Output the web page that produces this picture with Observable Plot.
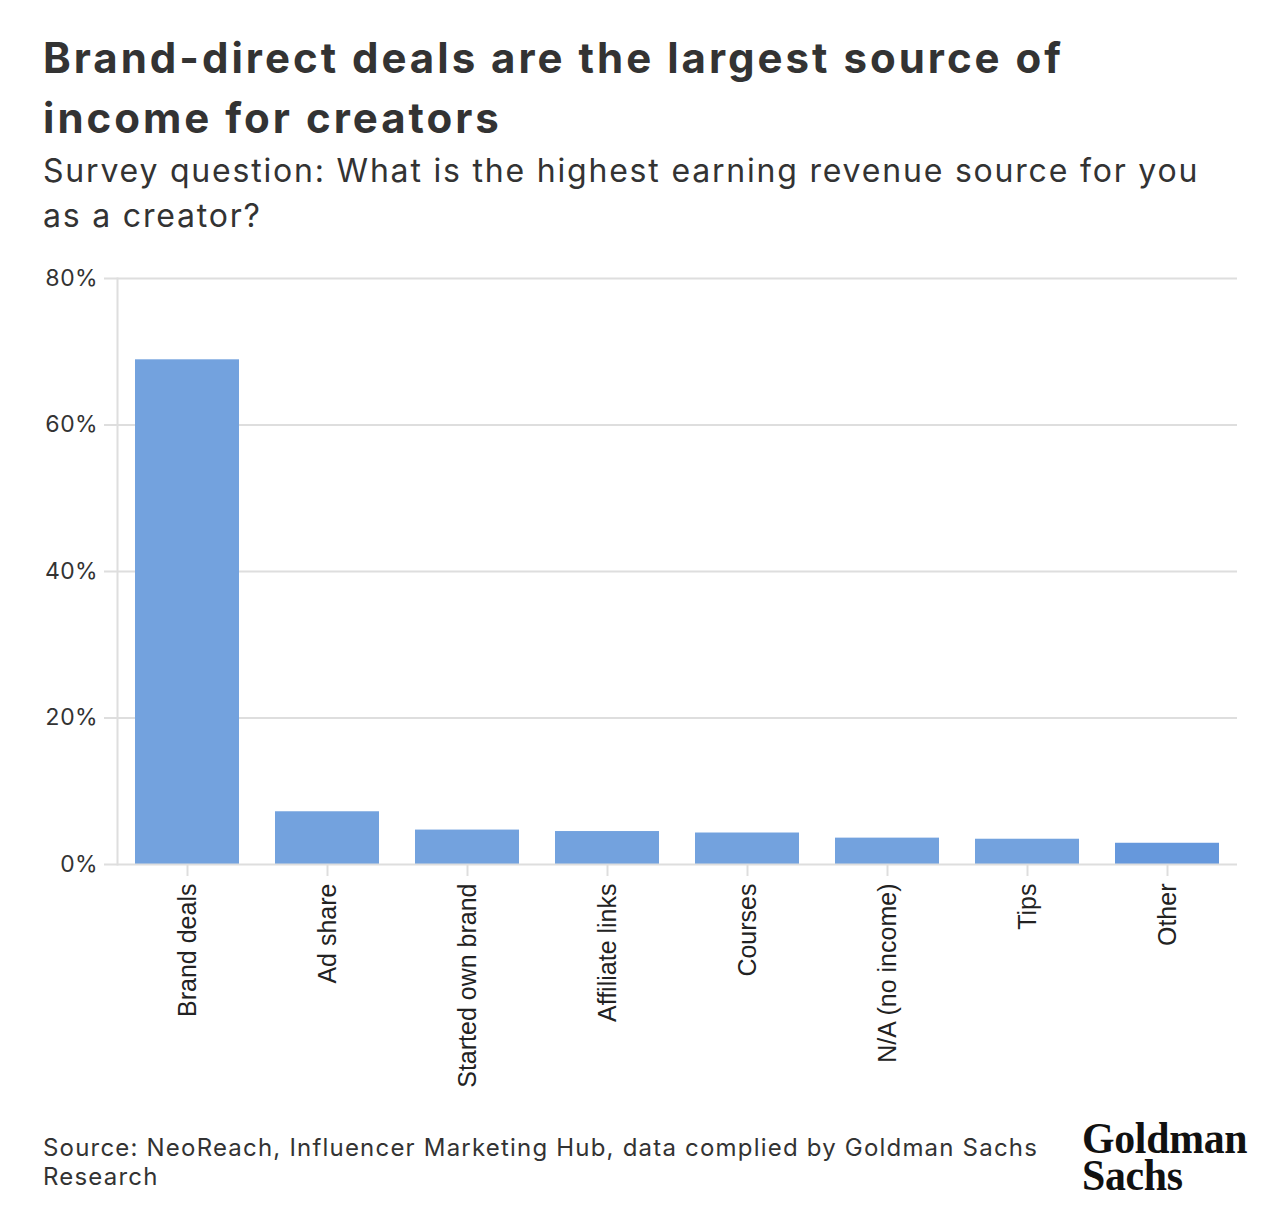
<!DOCTYPE html>
<html>
<head>
<meta charset="utf-8">
<script src="https://cdn.jsdelivr.net/npm/d3@7"></script>
<script src="https://cdn.jsdelivr.net/npm/@observablehq/plot@0.6"></script>
<style>
  html, body { margin: 0; padding: 0; background: #fff; }
  #page { position: relative; width: 1280px; height: 1226px; overflow: hidden; color: #333; }
  #title { position: absolute; left: 43px; top: 28px; width: 1230px; font-family: Inter, "Noto Sans", sans-serif; font-weight: 700; font-size: 42px; line-height: 60px; letter-spacing: 3px; }
  #subtitle { position: absolute; left: 43px; top: 148px; width: 1190px; font-family: Inter, "Noto Sans", sans-serif; font-weight: 400; font-size: 32px; line-height: 45px; letter-spacing: 1.8px; }
  #chart { position: absolute; left: 0; top: 250px; }
  #caption { position: absolute; left: 43px; top: 1133px; width: 1020px; font-family: Inter, "Noto Sans", sans-serif; font-size: 24px; line-height: 29px; letter-spacing: 1.2px; }
  .logo { position: absolute; left: 1082px; font-family: "Liberation Serif", serif; font-weight: 700; font-size: 44px; line-height: 36px; color: #111; transform: scaleX(0.95); transform-origin: left top; letter-spacing: -0.3px; white-space: nowrap; }
</style>
</head>
<body>
<div id="page">
  <div id="title">Brand-direct deals are the largest source of<br>income for creators</div>
  <div id="subtitle">Survey question: What is the highest earning revenue source for you as a creator?</div>
  <div id="chart"></div>
  <div id="caption">Source: NeoReach, Influencer Marketing Hub, data complied by Goldman Sachs Research</div>
  <div class="logo" style="top:1121px">Goldman</div>
  <div class="logo" style="top:1158px">Sachs</div>
</div>
<script>
const categories = ["Brand deals", "Ad share", "Started own brand", "Affiliate links", "Courses", "N/A (no income)", "Tips", "Other"];
const shares = [68.9, 7.2, 4.7, 4.5, 4.3, 3.6, 3.45, 2.9];
const barColors = ["#73a2de", "#73a2de", "#73a2de", "#73a2de", "#73a2de", "#73a2de", "#73a2de", "#6698dc"];
const yTicks = [0, 20, 40, 60, 80];

const data = categories.map((c, i) => ({category: c, value: shares[i], color: barColors[i]}));

const chart = Plot.plot({
  width: 1280,
  height: 870,
  marginTop: 28,
  marginBottom: 256,
  marginLeft: 117,
  marginRight: 43,
  style: { fontFamily: "Inter, 'Noto Sans', sans-serif", color: "#333", background: "#fff" },
  x: { domain: categories, paddingInner: 0.257, paddingOuter: 0.1285, label: null },
  y: { domain: [0, 80], label: null },
  marks: [
    Plot.gridY(yTicks.slice(1), { stroke: "#dedede", strokeOpacity: 1, strokeWidth: 2, insetLeft: -13 }),
    Plot.frame({ anchor: "left", stroke: "#dedede", strokeWidth: 2 }),
    Plot.barY(data, { x: "category", y: "value", fill: "color" }),
    Plot.ruleY([0], { stroke: "#dedede", strokeWidth: 2, insetLeft: -13 }),
    Plot.axisY({ ticks: yTicks, tickSize: 0, tickPadding: 20, tickFormat: d => d + "%", fontSize: 23, fill: "#333", style: "letter-spacing: 1px" }),
    Plot.axisX({ tickSize: 12, tickPadding: 7, tickRotate: -90, stroke: "#dedede", strokeWidth: 2, fontSize: 25, fill: "#222", fontFamily: "'Liberation Sans', Arial, sans-serif" })
  ]
});
document.getElementById("chart").appendChild(chart);
</script>
</body>
</html>
